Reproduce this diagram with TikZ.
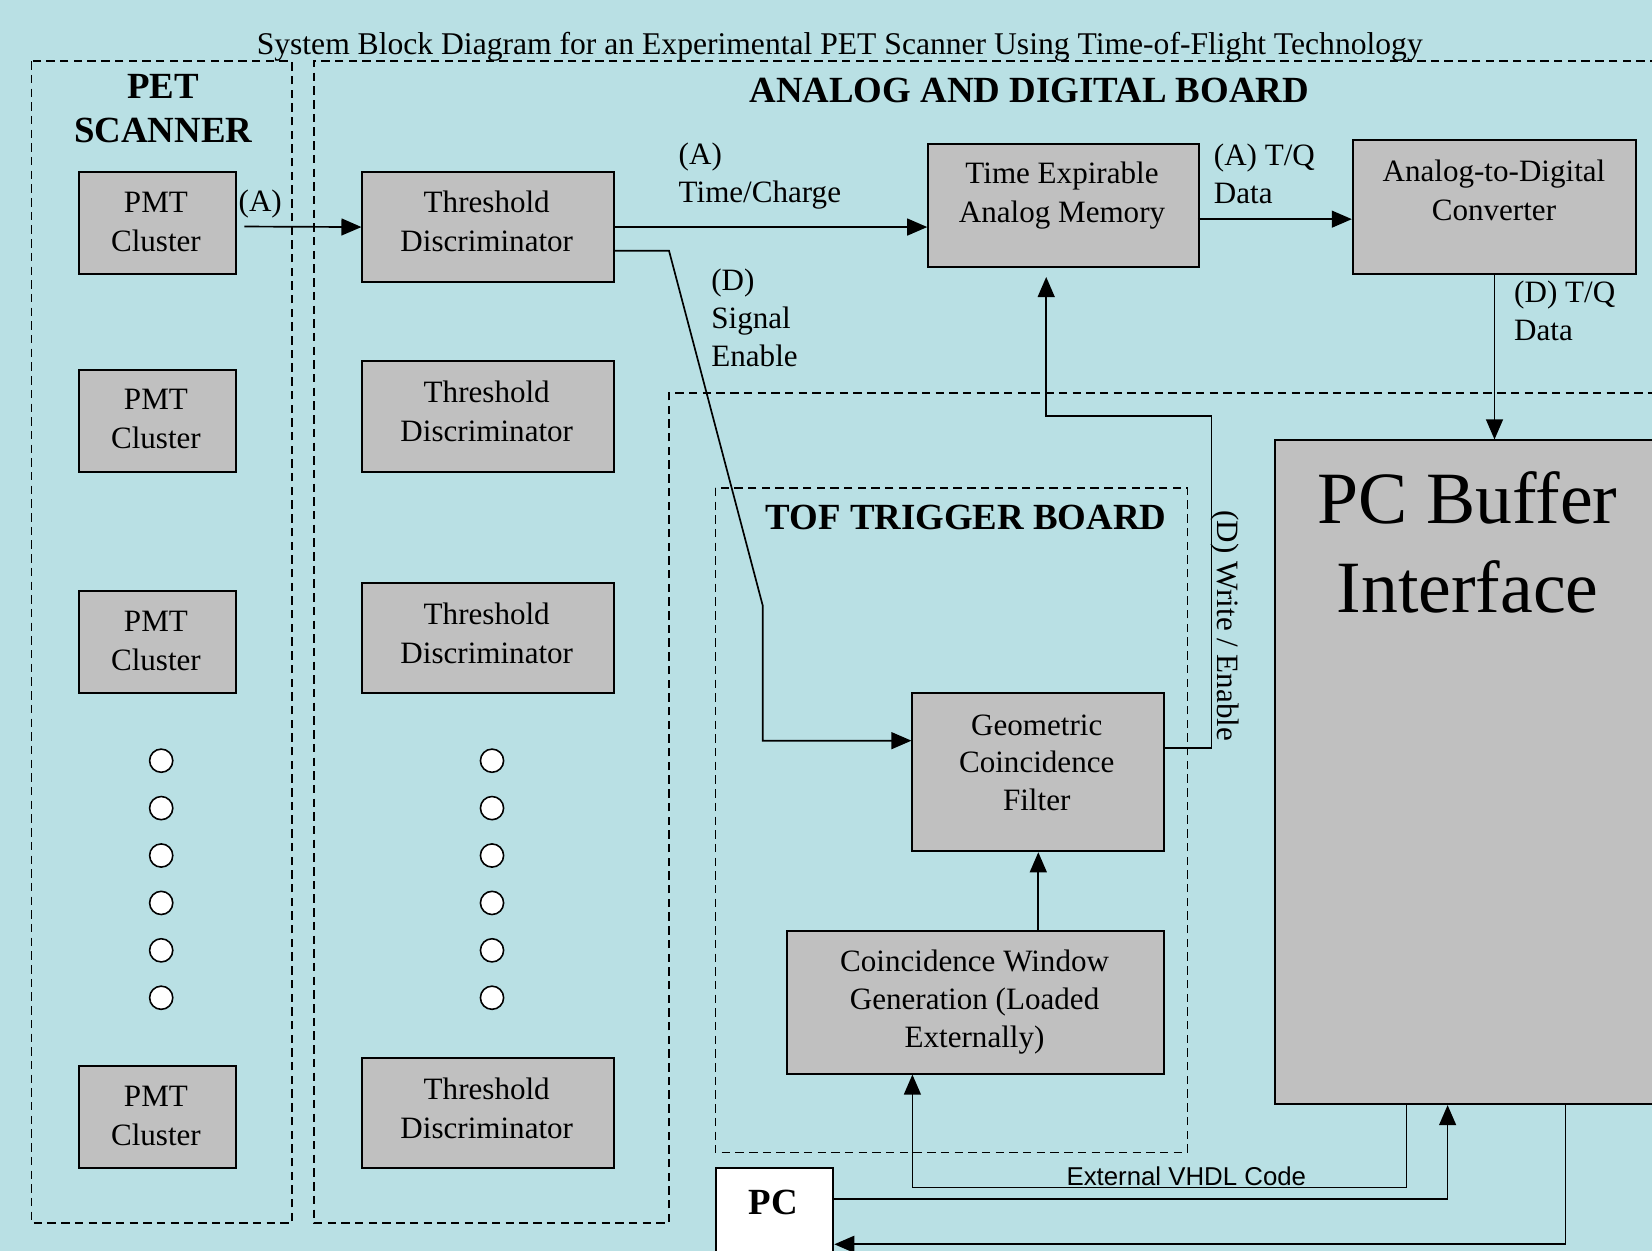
\documentclass[tikz,border=0pt]{standalone}
\usepackage{fontspec}
\setmainfont{Liberation Serif}
\newfontfamily\arialfont{Liberation Sans}
\usetikzlibrary{arrows.meta,calc}
\definecolor{bgc}{RGB}{185,224,228}
\definecolor{boxgray}{RGB}{192,192,192}
\begin{document}
\begin{tikzpicture}[x=1pt,y=-1pt,
  blk/.style={draw=black, line width=1.8pt, fill=boxgray, inner sep=0pt},
  txt/.style={font=\fontsize{29.5pt}{37pt}\selectfont, align=center, inner sep=0pt},
  ltxt/.style={font=\fontsize{29.5pt}{36pt}\selectfont, align=left, inner sep=0pt, anchor=west},
  head/.style={font=\fontsize{35pt}{41pt}\selectfont\bfseries, align=center, inner sep=0pt},
  dashbox/.style={draw=black, line width=1.5pt, dash pattern=on 8pt off 5pt},
  conn/.style={draw=black, line width=1.6pt},
  arr/.style={conn, -{Triangle[length=19pt,width=16pt]}},
  dot/.style={circle, draw=black, line width=1.5pt, fill=white, minimum size=22pt, inner sep=0pt}
]
\useasboundingbox (0,0) rectangle (1568,1187);
\fill[bgc] (0,0) rectangle (1568,1187);
\clip (0,0) rectangle (1568,1187);

% title
\node[txt, font=\fontsize{30pt}{36pt}\selectfont] (title) at (797,44) {System Block Diagram for an Experimental PET Scanner Using Time-of-Flight Technology};

% dashed regions
\draw[dashbox] (30,58) rectangle (277,1161);
\draw[dashbox] (1600,58) -- (298,58) -- (298,1161) -- (635,1161) -- (635,373) -- (1600,373);
\draw[dashbox] (679,463) rectangle (1127,1094);

% headings
\node[head] (hpet) at (155,103) {PET\\SCANNER};
\node[head] (hadb) at (977,86) {ANALOG AND DIGITAL BOARD};
\node[head] (htof) at (917,491) {TOF TRIGGER BOARD};

% PMT clusters
\foreach \i/\yy/\ty in {1/211.5/210.5, 2/399.5/398, 3/609.5/608.5, 4/1060.5/1059} {
  \node[blk, minimum width=149pt, minimum height=97pt] (pmt\i) at (149.5,\yy) {};
  \node[txt] (pmtt\i) at (148,\ty) {PMT\\Cluster};
}
% Threshold discriminators
\foreach \i/\yy/\ty in {1/215.5/210.5, 2/395.5/390.5, 3/605.5/601.5, 4/1056.5/1052} {
  \node[blk, minimum width=239pt, minimum height=105pt] (td\i) at (463.5,\yy) {};
  \node[txt] (tdt\i) at (462,\ty) {Threshold\\Discriminator};
}
% dots
\foreach \i/\yy in {1/722,2/767,3/812,4/857,5/902,6/947} {
  \node[dot] (dl\i) at (153,\yy) {};
  \node[dot] (dr\i) at (467,\yy) {};
}

% other blocks
\node[blk, minimum width=257pt, minimum height=116pt] (team) at (1009.5,195) {};
\node[txt] (teamt) at (1008,186) {Time Expirable\\Analog Memory};
\node[blk, minimum width=269pt, minimum height=127pt] (adc) at (1418.5,196.5) {};
\node[txt] (adct) at (1418,181) {Analog-to-Digital\\Converter};
\node[blk, minimum width=239pt, minimum height=150pt] (gcf) at (985.5,733) {};
\node[txt, font=\fontsize{29.5pt}{35.5pt}\selectfont] (gcft) at (984,724) {Geometric\\Coincidence\\Filter};
\node[blk, minimum width=358pt, minimum height=135pt] (cwg) at (926,951.5) {};
\node[txt, font=\fontsize{29.5pt}{36pt}\selectfont] (cwgt) at (925,951) {Coincidence Window\\Generation (Loaded\\Externally)};
\node[blk, minimum width=390pt, minimum height=630pt] (pcb) at (1405,733) {};
\node[txt, font=\fontsize{70pt}{85pt}\selectfont] (pcbt) at (1393,515) {PC Buffer\\Interface};
\node[blk, fill=white, minimum width=111pt, minimum height=91pt] (pc) at (735.5,1154.5) {};
\node[head] (pct) at (734,1141) {PC};

% connectors
\draw[arr] ($(pmt1.east)+(7,3.5)$) -- (td1.west);
\node[txt] (la1) at (247,194) {(A)};

\draw[arr] (td1.east) -- (td1.east -| team.west);
\node[ltxt] (la2) at (644,167) {(A)\\Time/Charge};

\coordinate (s1) at (635,238);
\coordinate (s2) at (724,575);
\draw[arr] ($(td1.east)+(0,22.5)$) -- (s1) -- (s2) |- ($(gcf.west)+(0,-30)$);
\node[ltxt] (ld1) at (675,302) {(D)\\Signal\\Enable};

\draw[arr] ($(team.east)+(-2,13)$) -- ($(adc.west)+(0,11.5)$);
\node[ltxt] (la3) at (1152,165) {(A) T/Q\\Data};

\draw[arr] (adc.south) -- (adc.south |- pcb.north);
\node[ltxt] (ld2) at (1437,295) {(D) T/Q\\Data};

\coordinate (w1) at (1150,710);
\coordinate (w2) at (1150,395);
\coordinate (w3) at (993,395);
\draw[arr] ($(gcf.east)+(0,-23)$) -- (w1) -- (w2) -- (w3) -- ($(team.south)+(-16.5,9)$);
\node[txt, rotate=-90] (ld3) at (1163,594) {(D) Write / Enable};

\draw[arr] (gcf.south |- cwg.north) -- (gcf.south);

\coordinate (v1) at (1335,1127);
\coordinate (v2) at (866,1127);
\draw[arr] (v1 |- pcb.south) -- (v1) -- (v2) -- (v2 |- cwg.south);
\node[inner sep=0pt, font=\arialfont\fontsize{24.5pt}{28pt}\selectfont] (lvhdl) at (1126,1116) {External VHDL Code};

\coordinate (p1) at (1374,1138);
\draw[arr] (p1 -| pc.east) -- (p1) -- (p1 |- pcb.south);

\coordinate (q1) at (1486,1181);
\draw[arr] (q1 |- pcb.south) -- (q1) -- (q1 -| pc.east);
\end{tikzpicture}
\end{document}
